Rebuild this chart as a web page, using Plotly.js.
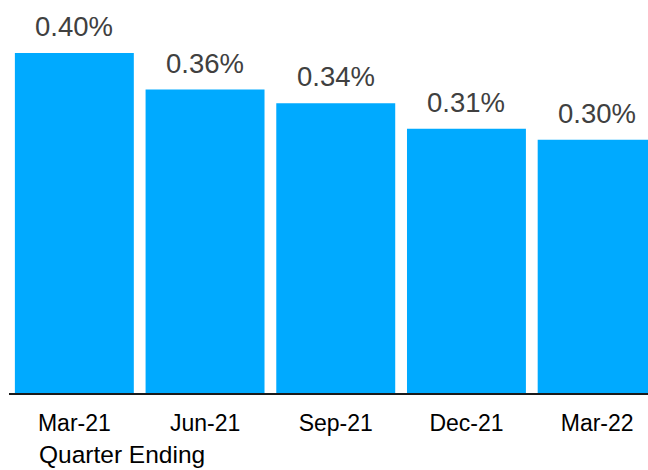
<!DOCTYPE html>
<html>
<head>
<meta charset="utf-8">
<script src="https://cdn.plot.ly/plotly-3.0.1.min.js"></script>
<style>html,body{margin:0;padding:0;background:#fff;} #chart{width:648px;height:470px;}</style>
</head>
<body>
<div id="chart"></div>
<script>
const categories = ["Mar-21", "Jun-21", "Sep-21", "Dec-21", "Mar-22"];
const values = [0.40, 0.357, 0.341, 0.311, 0.298];
const labels = values.map(v => v.toFixed(2) + "%");
const xTitle = "Quarter Ending";

const FONT = "Liberation Sans, Arial, Helvetica, sans-serif";

const trace = {
  type: "bar",
  x: categories,
  y: values,
  marker: {color: "#00AAFF"},
  hoverinfo: "skip"
};

const annotations = categories.map((c, i) => ({
  x: c, y: values[i], xref: "x", yref: "y",
  text: labels[i], showarrow: false,
  xanchor: "center", yanchor: "bottom", yshift: 9,
  font: {family: FONT, size: 27.5, color: "#404040"}
}));
annotations.push({
  xref: "paper", yref: "paper", x: 0.0445, y: 0, yshift: -77,
  xanchor: "left", yanchor: "bottom",
  text: xTitle, showarrow: false,
  font: {family: FONT, size: 24.5, color: "#000"}
});

const layout = {
  width: 648, height: 470,
  margin: {l: 9, r: 0, t: 10, b: 77},
  paper_bgcolor: "#fff", plot_bgcolor: "#fff",
  bargap: 0.09,
  showlegend: false,
  xaxis: {
    type: "category",
    range: [-0.5, 4.389],
    showgrid: false, zeroline: false,
    showline: true, linecolor: "#1a1a1a", linewidth: 1.5,
    ticks: "", ticklabelstandoff: 9,
    tickfont: {family: FONT, size: 23, color: "#000"},
    fixedrange: true
  },
  yaxis: {
    range: [0, 0.4506],
    visible: false, showgrid: false, zeroline: false,
    fixedrange: true
  },
  annotations: annotations
};

Plotly.newPlot("chart", [trace], layout, {displayModeBar: false, staticPlot: true});
</script>
</body>
</html>
